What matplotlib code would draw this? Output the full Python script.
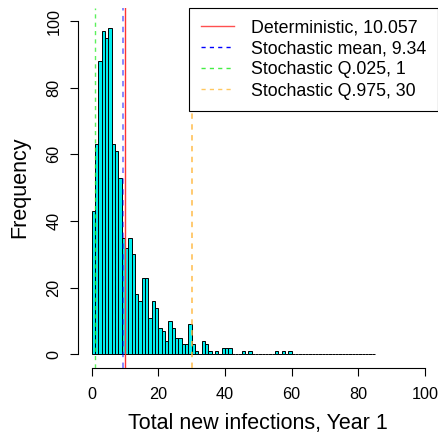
import numpy as np
import matplotlib
matplotlib.use("Agg")
import matplotlib.pyplot as plt
from matplotlib.lines import Line2D

plt.rcParams['font.family'] = ['Liberation Sans', 'DejaVu Sans']

# histogram counts, one per unit bin from 0 to 85
counts = [43, 63, 88, 97, 95, 98, 63, 61, 53, 35,
          32, 35, 30, 18, 16, 23, 23, 11, 16, 14,
          8, 7, 4, 10, 8, 5, 5, 3, 3, 9,
          3, 1, 0, 4, 3, 1, 0, 1, 0, 2,
          2, 2, 0, 0, 0, 1, 0, 1, 0, 0,
          0, 0, 0, 0, 0, 1, 0, 1, 0, 1,
          0, 0, 0, 0, 0, 0, 0, 0, 0, 0,
          0, 0, 0, 0, 0, 0, 0, 0, 0, 0,
          0, 0, 0, 0, 0]
bin_left = np.arange(len(counts))

deterministic = 10.057
stoch_mean = 9.34
q025 = 1
q975 = 30

leg_labels = ["Deterministic, 10.057", "Stochastic mean, 9.34",
              "Stochastic Q.025, 1", "Stochastic Q.975, 30"]

fig = plt.figure(figsize=(4.39, 4.40), dpi=100)
ax = fig.add_axes([78.2/439, (440-367.6)/440, (438.3-78.2)/439, (367.6-7.7)/440])

ax.bar(bin_left, counts, width=1, align='edge', color='#00EEEE',
       edgecolor='black', linewidth=0.7, zorder=2)

dash = (0, (3, 3))
ax.axvline(deterministic, color='#FF3333', lw=1, zorder=3)
ax.axvline(stoch_mean, color='#0000FF', alpha=0.5, lw=1.3, ls=dash, zorder=3)
ax.axvline(q025, color='#33EE33', alpha=0.8, lw=1, ls=dash, zorder=3)
ax.axvline(q975, color='#FFB840', alpha=0.8, lw=1.3, ls=dash, zorder=3)

handles = [Line2D([], [], color='#FF5050', lw=1),
           Line2D([], [], color='#0000FF', lw=1, ls=dash),
           Line2D([], [], color='#44EE44', lw=1, ls=dash),
           Line2D([], [], color='#FFC860', lw=1, ls=dash)]
leg = ax.legend(handles, leg_labels, loc='upper right', bbox_to_anchor=(1, 1),
                borderaxespad=0, fancybox=False, edgecolor='black',
                fontsize=12.8, handlelength=1.85, handletextpad=1.0,
                labelspacing=0.23, borderpad=0.65, framealpha=1)
leg.get_frame().set_linewidth(0.8)

ax.set_xlim(-4, 104)
ax.set_ylim(-4, 104)
ax.set_xticks([0, 20, 40, 60, 80, 100])
ax.set_yticks([0, 20, 40, 60, 80, 100])
for s in ['top', 'right']:
    ax.spines[s].set_visible(False)
ax.spines['left'].set_bounds(0, 100)
ax.spines['bottom'].set_bounds(0, 100)
ax.spines['left'].set_linewidth(0.8)
ax.spines['bottom'].set_linewidth(0.8)
ax.tick_params(axis='x', length=6, width=0.8, labelsize=11.7, pad=8)
ax.tick_params(axis='y', length=6, width=0.8, labelsize=11.7, pad=6)
plt.setp(ax.get_yticklabels(), rotation=90, va='center')

ax.set_xlabel('Total new infections, Year 1', fontsize=15.5, labelpad=8)
ax.set_ylabel('Frequency', fontsize=15.5, labelpad=12)

fig.savefig('out.png', dpi=100)
